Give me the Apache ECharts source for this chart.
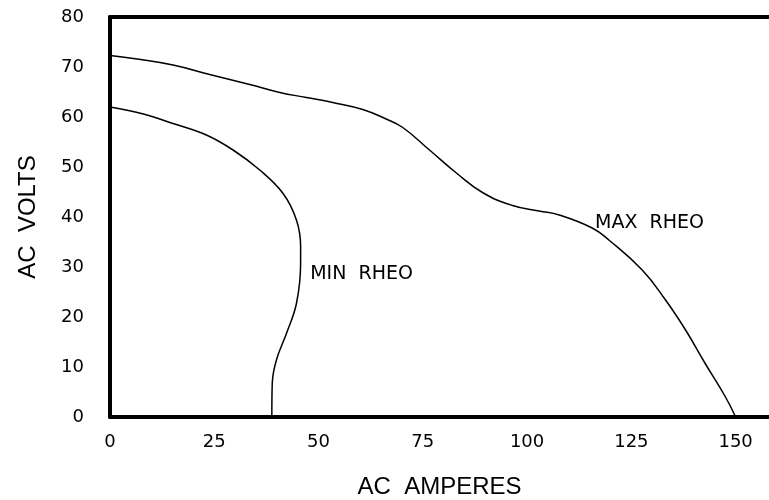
<!DOCTYPE html>
<html>
<head>
<meta charset="utf-8">
<script src="https://cdn.jsdelivr.net/npm/echarts@6/dist/echarts.min.js"></script>
<style>
  html, body { margin: 0; padding: 0; background: #fff; }
  #chart { width: 769px; height: 500px; }
</style>
</head>
<body>
<div id="chart"></div>
<script>
// values: [amperes, volts]
const maxRheo = [
  [0, 72.3], [5.6, 71.7], [15.1, 70.4], [23.9, 68.5], [33.5, 66.5],
  [40.7, 64.9], [47.1, 63.9], [53.4, 62.9], [60.6, 61.5], [66.2, 59.6],
  [70.2, 57.9], [76.6, 53.4], [82.9, 48.9], [89.3, 44.9], [96.5, 42.3],
  [102.9, 41.2], [107.7, 40.4], [115.6, 37.8], [119.6, 35.4], [127.6, 29.4],
  [133.2, 23.4], [138.0, 17.4], [142.7, 10.7], [147.5, 4.1], [150, 0]
];
const minRheo = [
  [0, 62.0], [8, 60.6], [15.1, 58.7], [23.1, 56.4], [29.5, 53.4],
  [35.9, 49.4], [41.5, 44.7], [44.7, 39.4], [45.7, 34.1], [45.7, 30.7],
  [44.7, 22.7], [42.3, 16.7], [39.9, 11.4], [38.9, 6.7], [38.8, 0]
];
const xTicks = [0, 25, 50, 75, 100, 125, 150];
const yTicks = [0, 10, 20, 30, 40, 50, 60, 70, 80];
const minLabelAt = [48, 28.6];
const maxLabelAt = [116.3, 38.8];

const chart = echarts.init(document.getElementById('chart'));
const font = 'Liberation Sans';
const tickFont = 'DejaVu Sans';

const curveLabel = (name, coord) => ({
  silent: true,
  symbol: 'circle',
  symbolSize: 0,
  label: {
    show: true,
    formatter: name,
    position: 'right',
    distance: 0,
    color: '#000',
    fontFamily: tickFont,
    fontSize: 19
  },
  data: [{ coord: coord }]
});

chart.setOption({
  animation: false,
  backgroundColor: '#fff',
  grid: { left: 110, right: 0, top: 17, bottom: 83, outerBoundsMode: 'none' },
  xAxis: [{
    type: 'value',
    min: 0,
    max: 158,
    interval: 25,
    name: 'AC  AMPERES',
    nameLocation: 'middle',
    nameGap: 58,
    nameTextStyle: { color: '#000', fontFamily: font, fontSize: 24 },
    axisLine: { show: true, onZero: false, lineStyle: { color: '#000', width: 4 } },
    axisTick: { show: false },
    splitLine: { show: false },
    axisLabel: {
      color: '#000', fontFamily: tickFont, fontSize: 18, margin: 16,
      formatter: v => (xTicks.includes(v) ? String(v) : '')
    }
  }, {
    type: 'value',
    position: 'top',
    min: 0,
    max: 158,
    axisLine: { show: true, onZero: false, lineStyle: { color: '#000', width: 4 } },
    axisTick: { show: false },
    axisLabel: { show: false },
    splitLine: { show: false }
  }],
  yAxis: {
    type: 'value',
    min: 0,
    max: 80,
    interval: 10,
    name: 'AC  VOLTS',
    nameLocation: 'middle',
    nameGap: 70,
    nameRotate: 90,
    nameTextStyle: { color: '#000', fontFamily: font, fontSize: 24 },
    axisLine: { show: true, onZero: false, lineStyle: { color: '#000', width: 4 } },
    axisTick: { show: false },
    splitLine: { show: false },
    axisLabel: {
      color: '#000', fontFamily: tickFont, fontSize: 18, margin: 26,
      formatter: v => (yTicks.includes(v) ? String(v) : '')
    }
  },
  series: [{
    name: 'MAX RHEO',
    type: 'line',
    data: maxRheo,
    smooth: 0.45,
    showSymbol: false,
    lineStyle: { color: '#000', width: 1.5 },
    markPoint: curveLabel('MAX  RHEO', maxLabelAt)
  }, {
    name: 'MIN RHEO',
    type: 'line',
    data: minRheo,
    smooth: 0.4,
    showSymbol: false,
    lineStyle: { color: '#000', width: 1.5 },
    markPoint: curveLabel('MIN  RHEO', minLabelAt)
  }]
});
</script>
</body>
</html>
